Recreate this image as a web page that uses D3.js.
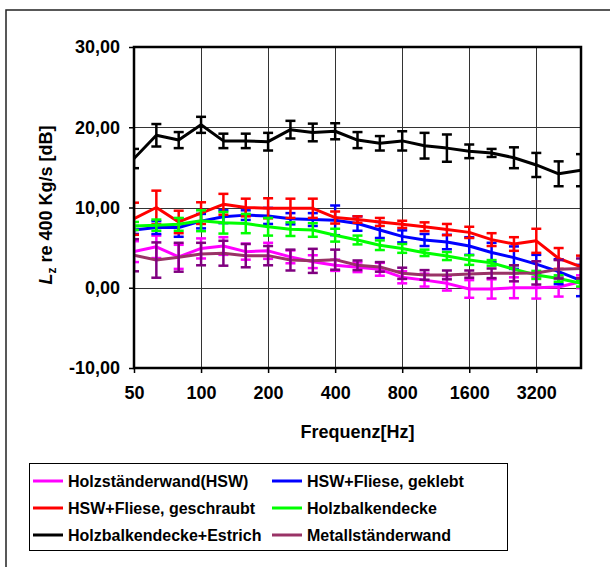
<!DOCTYPE html>
<html>
<head>
<meta charset="utf-8">
<script src="https://cdn.jsdelivr.net/npm/d3@7"></script>
<style>
  body { margin: 0; background: #fff; }
  svg { display: block; font-family: "Liberation Sans", Arial, sans-serif; font-weight: bold; }
</style>
</head>
<body>
<div id="contenedor"></div>
<script>
const ANCHO = 610, ALTO = 567;
const IZQ = 134, DER = 581, ARRIBA = 47, ABAJO = 368;

// Terzbänder (Kategorien der x-Achse)
const bandas = ["50","63","80","100","125","160","200","250","315","400","500","630","800","1000","1250","1600","2000","2500","3200","4000","5000"];
const etiquetasX = ["50","100","200","400","800","1600","3200"];
const ticksY = [-10, 0, 10, 20, 30];

const nombres = ["Holzständerwand(HSW)", "HSW+Fliese, geklebt", "HSW+Fliese, geschraubt", "Holzbalkendecke", "Holzbalkendecke+Estrich", "Metallständerwand"];
const colores = ["#ff00ff", "#0000ff", "#ff0000", "#00ff00", "#000000", "#993366"];
const coloresError = ["#ff00ff", "#0000ff", "#ff0000", "#00ff00", "#000000", "#800080"];

const hsw = [4.5,5.1,3.85,4.9,5.2,4.5,4.6,3.85,3.25,2.8,2.55,2.3,1.3,0.95,0.55,-0.15,-0.15,0.0,0.0,0.1,0.75];
const hswErr = [1.3,1.4,1.5,1.25,1.1,1.0,1.0,0.8,0.8,0.7,0.6,0.8,0.75,0.8,0.9,1.1,1.2,1.3,1.35,1.2,0.8];
const geklebt = [7.2,7.5,7.5,8.3,8.85,9.05,8.95,8.6,8.5,8.4,8.0,7.2,6.4,5.95,5.7,5.2,4.4,3.75,2.95,2.0,0.9];
const geklebtErr = [0.5,0.8,1.15,0.9,0.8,0.6,1.0,0.7,0.8,1.85,0.9,1.0,0.75,0.75,0.9,1.1,1.2,1.4,1.15,1.55,1.95];
const geschraubt = [8.6,10.0,8.2,9.3,10.4,10.0,9.9,9.9,9.9,8.75,8.5,8.2,7.9,7.6,7.25,6.9,6.0,5.45,5.85,3.65,2.6];
const geschraubtErr = [2.0,2.1,1.4,1.35,1.3,1.1,1.25,1.2,1.2,0.75,0.4,0.5,0.45,0.55,0.7,0.7,0.8,0.85,1.5,1.3,1.4];
const balken = [7.7,7.8,7.9,8.35,8.1,8.0,7.6,7.3,7.2,6.55,5.95,5.3,4.9,4.35,3.95,3.45,3.1,2.3,1.6,1.15,0.55];
const balkenErr = [0.5,0.7,0.8,1.3,1.35,1.2,1.1,0.85,0.85,0.8,0.55,0.6,0.55,0.4,0.5,0.6,0.35,0.5,0.5,0.4,0.4];
const estrich = [16.1,19.0,18.4,20.3,18.3,18.3,18.2,19.7,19.35,19.5,18.4,18.0,18.3,17.7,17.4,17.0,16.8,16.2,15.3,14.2,14.65];
const estrichErr = [1.2,1.4,1.0,1.0,0.9,0.9,1.1,1.1,1.1,1.0,1.0,0.9,1.2,1.6,1.7,0.85,0.5,1.3,1.5,1.55,2.0];
const metall = [4.05,3.45,3.8,4.2,4.3,4.0,4.0,3.45,3.35,3.5,2.8,2.6,1.8,1.6,1.6,1.7,1.8,1.8,1.85,2.3,2.4];
const metallErr = [2.0,2.2,1.8,1.4,1.55,1.45,1.2,1.3,1.5,1.25,0.6,0.6,0.7,0.6,0.55,0.45,0.6,1.0,1.45,1.15,1.25];

const valores = [hsw, geklebt, geschraubt, balken, estrich, metall];
const errores = [hswErr, geklebtErr, geschraubtErr, balkenErr, estrichErr, metallErr];

const formato = d3.formatLocale({decimal: ",", thousands: ".", grouping: [3], currency: ["", "€"], minus: "-"}).format(".2f");

const x = d3.scalePoint().domain(bandas).range([IZQ, DER]).padding(0);
const y = d3.scaleLinear().domain([-10, 30]).range([ABAJO, ARRIBA]);

const $svg = d3.select("#contenedor")
    .append("svg")
    .attr("width", ANCHO)
    .attr("height", ALTO);

// Rahmen außen
$svg.append("rect")
    .attr("x", 6).attr("y", 10)
    .attr("width", 700).attr("height", 700)
    .attr("fill", "none")
    .attr("stroke", "#222")
    .attr("stroke-width", 1.5);

// Gitternetz
$svg.append("g")
    .selectAll("line")
    .data([0, 10, 20])
    .join("line")
    .attr("x1", IZQ).attr("x2", DER)
    .attr("y1", d => Math.round(y(d)) + 0.5).attr("y2", d => Math.round(y(d)) + 0.5)
    .attr("stroke", "#333")
    .attr("stroke-width", 1);

$svg.append("g")
    .selectAll("line")
    .data(etiquetasX.slice(1))
    .join("line")
    .attr("x1", d => Math.round(x(d)) + 0.5).attr("x2", d => Math.round(x(d)) + 0.5)
    .attr("y1", ARRIBA).attr("y2", ABAJO)
    .attr("stroke", "#333")
    .attr("stroke-width", 1);

// Achsen
const ejeY = $svg.append("g")
    .attr("transform", `translate(${IZQ},0)`)
    .call(d3.axisLeft(y).tickValues(ticksY).tickSize(5).tickPadding(9).tickFormat(formato));
ejeY.select(".domain").remove();
ejeY.selectAll("line").attr("stroke", "#000").attr("stroke-width", 1.5);
ejeY.selectAll("text").attr("font-size", 18).attr("font-family", "'Liberation Sans', Arial, sans-serif").attr("font-weight", "bold").attr("fill", "#000");

const ejeX = $svg.append("g")
    .attr("transform", `translate(0,${ABAJO})`)
    .call(d3.axisBottom(x).tickValues(etiquetasX).tickSize(5).tickPadding(13));
ejeX.select(".domain").remove();
ejeX.selectAll("line").attr("stroke", "#000").attr("stroke-width", 1.5);
ejeX.selectAll("text").attr("font-size", 18).attr("font-family", "'Liberation Sans', Arial, sans-serif").attr("font-weight", "bold").attr("fill", "#000");

// Clip für Plotbereich
$svg.append("clipPath").attr("id", "recorte")
    .append("rect")
    .attr("x", IZQ).attr("y", ARRIBA)
    .attr("width", DER - IZQ).attr("height", ABAJO - ARRIBA);

const linea = d3.line()
    .x((d, i) => x(bandas[i]))
    .y(d => y(d));

const $series = $svg.append("g").attr("clip-path", "url(#recorte)");
valores.forEach((serie, s) => {
    const g = $series.append("g");
    g.append("path")
        .datum(serie)
        .attr("d", linea)
        .attr("fill", "none")
        .attr("stroke", colores[s])
        .attr("stroke-width", 3)
        .attr("stroke-linejoin", "round");
    const barras = g.selectAll("g.err")
        .data(serie.map((v, i) => ({v: v, e: errores[s][i], b: bandas[i]})))
        .join("g")
        .attr("class", "err")
        .attr("stroke", coloresError[s])
        .attr("stroke-width", 2.5);
    barras.append("line")
        .attr("x1", d => x(d.b)).attr("x2", d => x(d.b))
        .attr("y1", d => y(d.v + d.e)).attr("y2", d => y(d.v - d.e));
    barras.append("line")
        .attr("x1", d => x(d.b) - 5).attr("x2", d => x(d.b) + 5)
        .attr("y1", d => y(d.v + d.e)).attr("y2", d => y(d.v + d.e));
    barras.append("line")
        .attr("x1", d => x(d.b) - 5).attr("x2", d => x(d.b) + 5)
        .attr("y1", d => y(d.v - d.e)).attr("y2", d => y(d.v - d.e));
});

// Rahmen Plotbereich
$svg.append("rect")
    .attr("x", IZQ).attr("y", ARRIBA)
    .attr("width", DER - IZQ).attr("height", ABAJO - ARRIBA)
    .attr("fill", "none")
    .attr("stroke", "#000")
    .attr("stroke-width", 2.5);

// Achsentitel
$svg.append("text")
    .attr("x", (IZQ + DER) / 2).attr("y", 438)
    .attr("text-anchor", "middle")
    .attr("font-size", 18)
    .text("Frequenz[Hz]");

const tituloY = $svg.append("text")
    .attr("transform", "translate(52,205) rotate(-90)")
    .attr("text-anchor", "middle")
    .attr("font-size", 18);
tituloY.append("tspan").attr("font-style", "italic").text("L");
tituloY.append("tspan").attr("font-size", 12).attr("dy", 4).text("z");
tituloY.append("tspan").attr("dy", -4).text(" re 400 Kg/s [dB]");

// Legende
const $leyenda = $svg.append("g");
$leyenda.append("rect")
    .attr("x", 29.5).attr("y", 463.5)
    .attr("width", 478).attr("height", 87)
    .attr("fill", "#fff")
    .attr("stroke", "#000")
    .attr("stroke-width", 1);

const columnas = [33, 272];
const filas = [481, 508, 535];
nombres.forEach((nombre, i) => {
    const cx = columnas[i % 2], cy = filas[Math.floor(i / 2)];
    $leyenda.append("line")
        .attr("x1", cx).attr("x2", cx + 30)
        .attr("y1", cy).attr("y2", cy)
        .attr("stroke", colores[i])
        .attr("stroke-width", 3);
    $leyenda.append("text")
        .attr("x", cx + 35).attr("y", cy + 6)
        .attr("font-size", 16)
        .text(nombre);
});
</script>
</body>
</html>
